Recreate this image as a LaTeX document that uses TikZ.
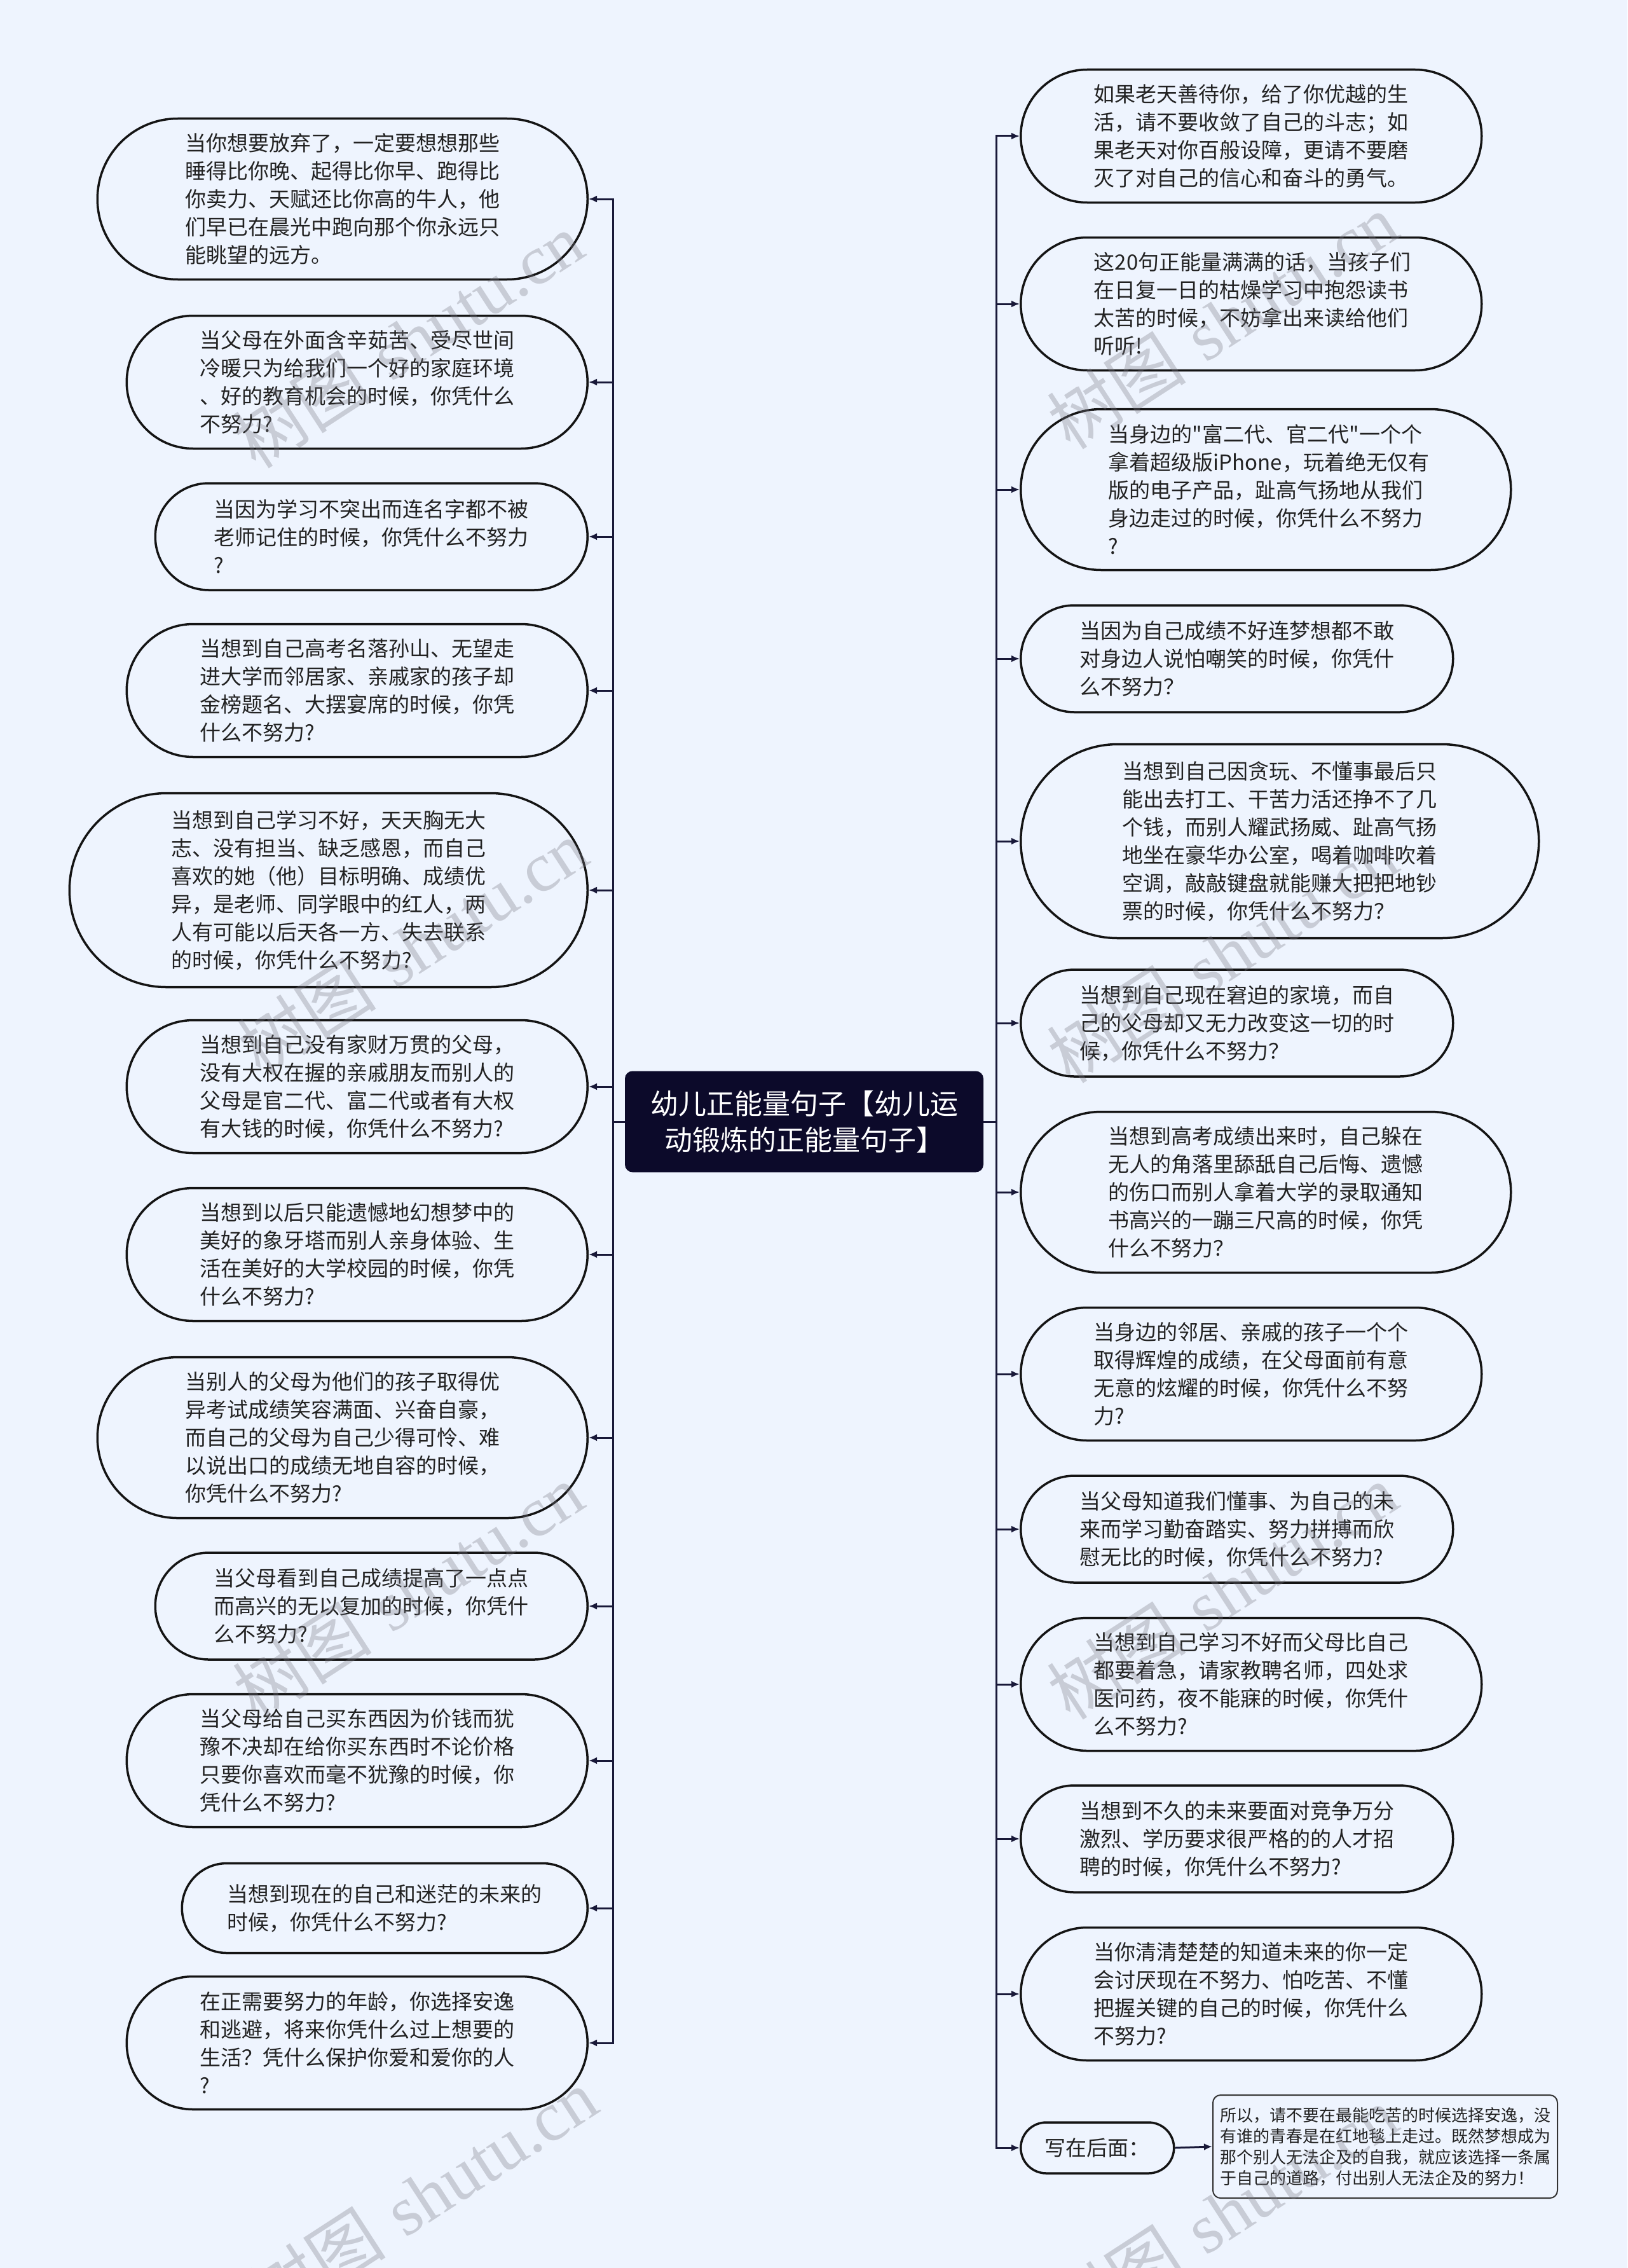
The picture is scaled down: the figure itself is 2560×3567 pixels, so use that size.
\documentclass[tikz,border=0pt]{standalone}
\usepackage{fontspec}
\newfontfamily\cjk{Noto Sans CJK SC}
\newfontfamily\wmserif{Liberation Serif}
\usetikzlibrary{shapes.misc,arrows.meta}
\definecolor{bg}{RGB}{238,244,254}
\definecolor{navy}{RGB}{12,10,42}
\definecolor{ink}{RGB}{34,34,34}
\definecolor{wire}{RGB}{24,24,56}
\definecolor{wm}{RGB}{120,120,132}
\begin{document}
\begin{tikzpicture}[x=1pt,y=-1pt,
  leaf/.style={rounded rectangle, draw=black!92, line width=3.5pt, fill=bg, text=ink,
    font=\cjk\fontsize{33}{44}\selectfont, text width=495pt, align=left,
    inner xsep=8pt, inner ysep=2pt},
  hA/.style={minimum height=80pt, minimum width=257pt},
  hB/.style={minimum height=141pt, minimum width=654pt},
  hC/.style={minimum height=168pt, minimum width=696pt},
  hD/.style={minimum height=209pt, minimum width=741pt},
  hE/.style={minimum height=253pt, minimum width=787pt},
  hF/.style={minimum height=305pt, minimum width=831pt},
  lft/.style={leaf, anchor=east},
  rgt/.style={leaf, anchor=west},
  root/.style={rectangle, rounded corners=12pt, fill=navy, text=white,
    font=\cjk\fontsize{44}{57}\selectfont, align=center,
    minimum width=564pt, minimum height=159pt, inner sep=0pt},
  notebox/.style={rectangle, rounded corners=12pt, draw=black!80, line width=2pt, fill=bg,
    text=ink, font=\cjk\fontsize{26}{33}\selectfont, text width=520pt, align=left,
    inner xsep=11pt, minimum height=162pt, anchor=west},
  conn/.style={draw=wire, line width=3pt, -{Latex[length=13pt,width=11pt]}},
  wmark/.style={text=wm, opacity=0.32, rotate=33, font=\fontsize{110}{110}\selectfont, inner sep=0pt}
]
\useasboundingbox (0,0) rectangle (2560,3567);
\fill[bg] (0,0) rectangle (2560,3567);

\node[root] (C) at (1265,1764) {幼儿正能量句子【幼儿运\\动锻炼的正能量句子】};

% left column
\node[lft,hE] (L1) at (926,313) {当你想要放弃了，一定要想想那些\\睡得比你晚、起得比你早、跑得比\\你卖力、天赋还比你高的牛人，他\\们早已在晨光中跑向那个你永远只\\能眺望的远方。};
\node[lft,hD] (L2) at (926,601) {当父母在外面含辛茹苦、受尽世间\\冷暖只为给我们一个好的家庭环境\\、好的教育机会的时候，你凭什么\\不努力?};
\node[lft,hC] (L3) at (926,844) {当因为学习不突出而连名字都不被\\老师记住的时候，你凭什么不努力\\?};
\node[lft,hD] (L4) at (926,1086) {当想到自己高考名落孙山、无望走\\进大学而邻居家、亲戚家的孩子却\\金榜题名、大摆宴席的时候，你凭\\什么不努力?};
\node[lft,hF] (L5) at (926,1400) {当想到自己学习不好，天天胸无大\\志、没有担当、缺乏感恩，而自己\\喜欢的她（他）目标明确、成绩优\\异，是老师、同学眼中的红人，两\\人有可能以后天各一方、失去联系\\的时候，你凭什么不努力?};
\node[lft,hD] (L6) at (926,1709) {当想到自己没有家财万贯的父母，\\没有大权在握的亲戚朋友而别人的\\父母是官二代、富二代或者有大权\\有大钱的时候，你凭什么不努力?};
\node[lft,hD] (L7) at (926,1973) {当想到以后只能遗憾地幻想梦中的\\美好的象牙塔而别人亲身体验、生\\活在美好的大学校园的时候，你凭\\什么不努力?};
\node[lft,hE] (L8) at (926,2261) {当别人的父母为他们的孩子取得优\\异考试成绩笑容满面、兴奋自豪，\\而自己的父母为自己少得可怜、难\\以说出口的成绩无地自容的时候，\\你凭什么不努力?};
\node[lft,hC] (L9) at (926,2526) {当父母看到自己成绩提高了一点点\\而高兴的无以复加的时候，你凭什\\么不努力?};
\node[lft,hD] (L10) at (926,2769) {当父母给自己买东西因为价钱而犹\\豫不决却在给你买东西时不论价格\\只要你喜欢而毫不犹豫的时候，你\\凭什么不努力?};
\node[lft,hB] (L11) at (926,3001) {当想到现在的自己和迷茫的未来的\\时候，你凭什么不努力?};
\node[lft,hD] (L12) at (926,3213) {在正需要努力的年龄，你选择安逸\\和逃避，将来你凭什么过上想要的\\生活？凭什么保护你爱和爱你的人\\?};

% right column
\node[rgt,hD] (R1) at (1604,214) {如果老天善待你，给了你优越的生\\活，请不要收敛了自己的斗志；如\\果老天对你百般设障，更请不要磨\\灭了对自己的信心和奋斗的勇气。};
\node[rgt,hD] (R2) at (1604,478) {这20句正能量满满的话，当孩子们\\在日复一日的枯燥学习中抱怨读书\\太苦的时候，不妨拿出来读给他们\\听听!};
\node[rgt,hE] (R3) at (1604,770) {当身边的"富二代、官二代"一个个\\拿着超级版iPhone，玩着绝无仅有\\版的电子产品，趾高气扬地从我们\\身边走过的时候，你凭什么不努力\\?};
\node[rgt,hC] (R4) at (1604,1036) {当因为自己成绩不好连梦想都不敢\\对身边人说怕嘲笑的时候，你凭什\\么不努力？};
\node[rgt,hF] (R5) at (1604,1323) {当想到自己因贪玩、不懂事最后只\\能出去打工、干苦力活还挣不了几\\个钱，而别人耀武扬威、趾高气扬\\地坐在豪华办公室，喝着咖啡吹着\\空调，敲敲键盘就能赚大把把地钞\\票的时候，你凭什么不努力？};
\node[rgt,hC] (R6) at (1604,1609) {当想到自己现在窘迫的家境，而自\\己的父母却又无力改变这一切的时\\候，你凭什么不努力？};
\node[rgt,hE] (R7) at (1604,1875) {当想到高考成绩出来时，自己躲在\\无人的角落里舔舐自己后悔、遗憾\\的伤口而别人拿着大学的录取通知\\书高兴的一蹦三尺高的时候，你凭\\什么不努力？};
\node[rgt,hD] (R8) at (1604,2161) {当身边的邻居、亲戚的孩子一个个\\取得辉煌的成绩，在父母面前有意\\无意的炫耀的时候，你凭什么不努\\力?};
\node[rgt,hC] (R9) at (1604,2405) {当父母知道我们懂事、为自己的未\\来而学习勤奋踏实、努力拼搏而欣\\慰无比的时候，你凭什么不努力?};
\node[rgt,hD] (R10) at (1604,2649) {当想到自己学习不好而父母比自己\\都要着急，请家教聘名师，四处求\\医问药，夜不能寐的时候，你凭什\\么不努力?};
\node[rgt,hC] (R11) at (1604,2892) {当想到不久的未来要面对竞争万分\\激烈、学历要求很严格的的人才招\\聘的时候，你凭什么不努力?};
\node[rgt,hD] (R12) at (1604,3136) {当你清清楚楚的知道未来的你一定\\会讨厌现在不努力、怕吃苦、不懂\\把握关键的自己的时候，你凭什么\\不努力?};
\node[rgt,hA,text width=] (R13) at (1604,3378) {写在后面：};
\node[notebox] (N) at (1907,3376) {所以，请不要在最能吃苦的时候选择安逸，没\\有谁的青春是在红地毯上走过。既然梦想成为\\那个别人无法企及的自我，就应该选择一条属\\于自己的道路，付出别人无法企及的努力！};

% connectors
\foreach \n in {L1,L2,L3,L4,L5,L6,L7,L8,L9,L10,L11,L12}
  \draw[conn] (C.west) -- ++(-18,0) |- (\n.east);
\foreach \n in {R1,R2,R3,R4,R5,R6,R7,R8,R9,R10,R11,R12,R13}
  \draw[conn] (C.east) -- ++(20,0) |- (\n.west);
\draw[conn] (R13.east) -- (N.west);

% watermarks
\foreach \i/\x/\y in {1/642/535,2/649/1490,3/642/2503,4/664/3454,5/1923/505,6/1923/1502,7/1923/2503,8/1923/3482}
  \node[wmark] (W\i) at (\x,\y) {{\cjk 树图} {\wmserif shutu.cn}};
\end{tikzpicture}
\end{document}
